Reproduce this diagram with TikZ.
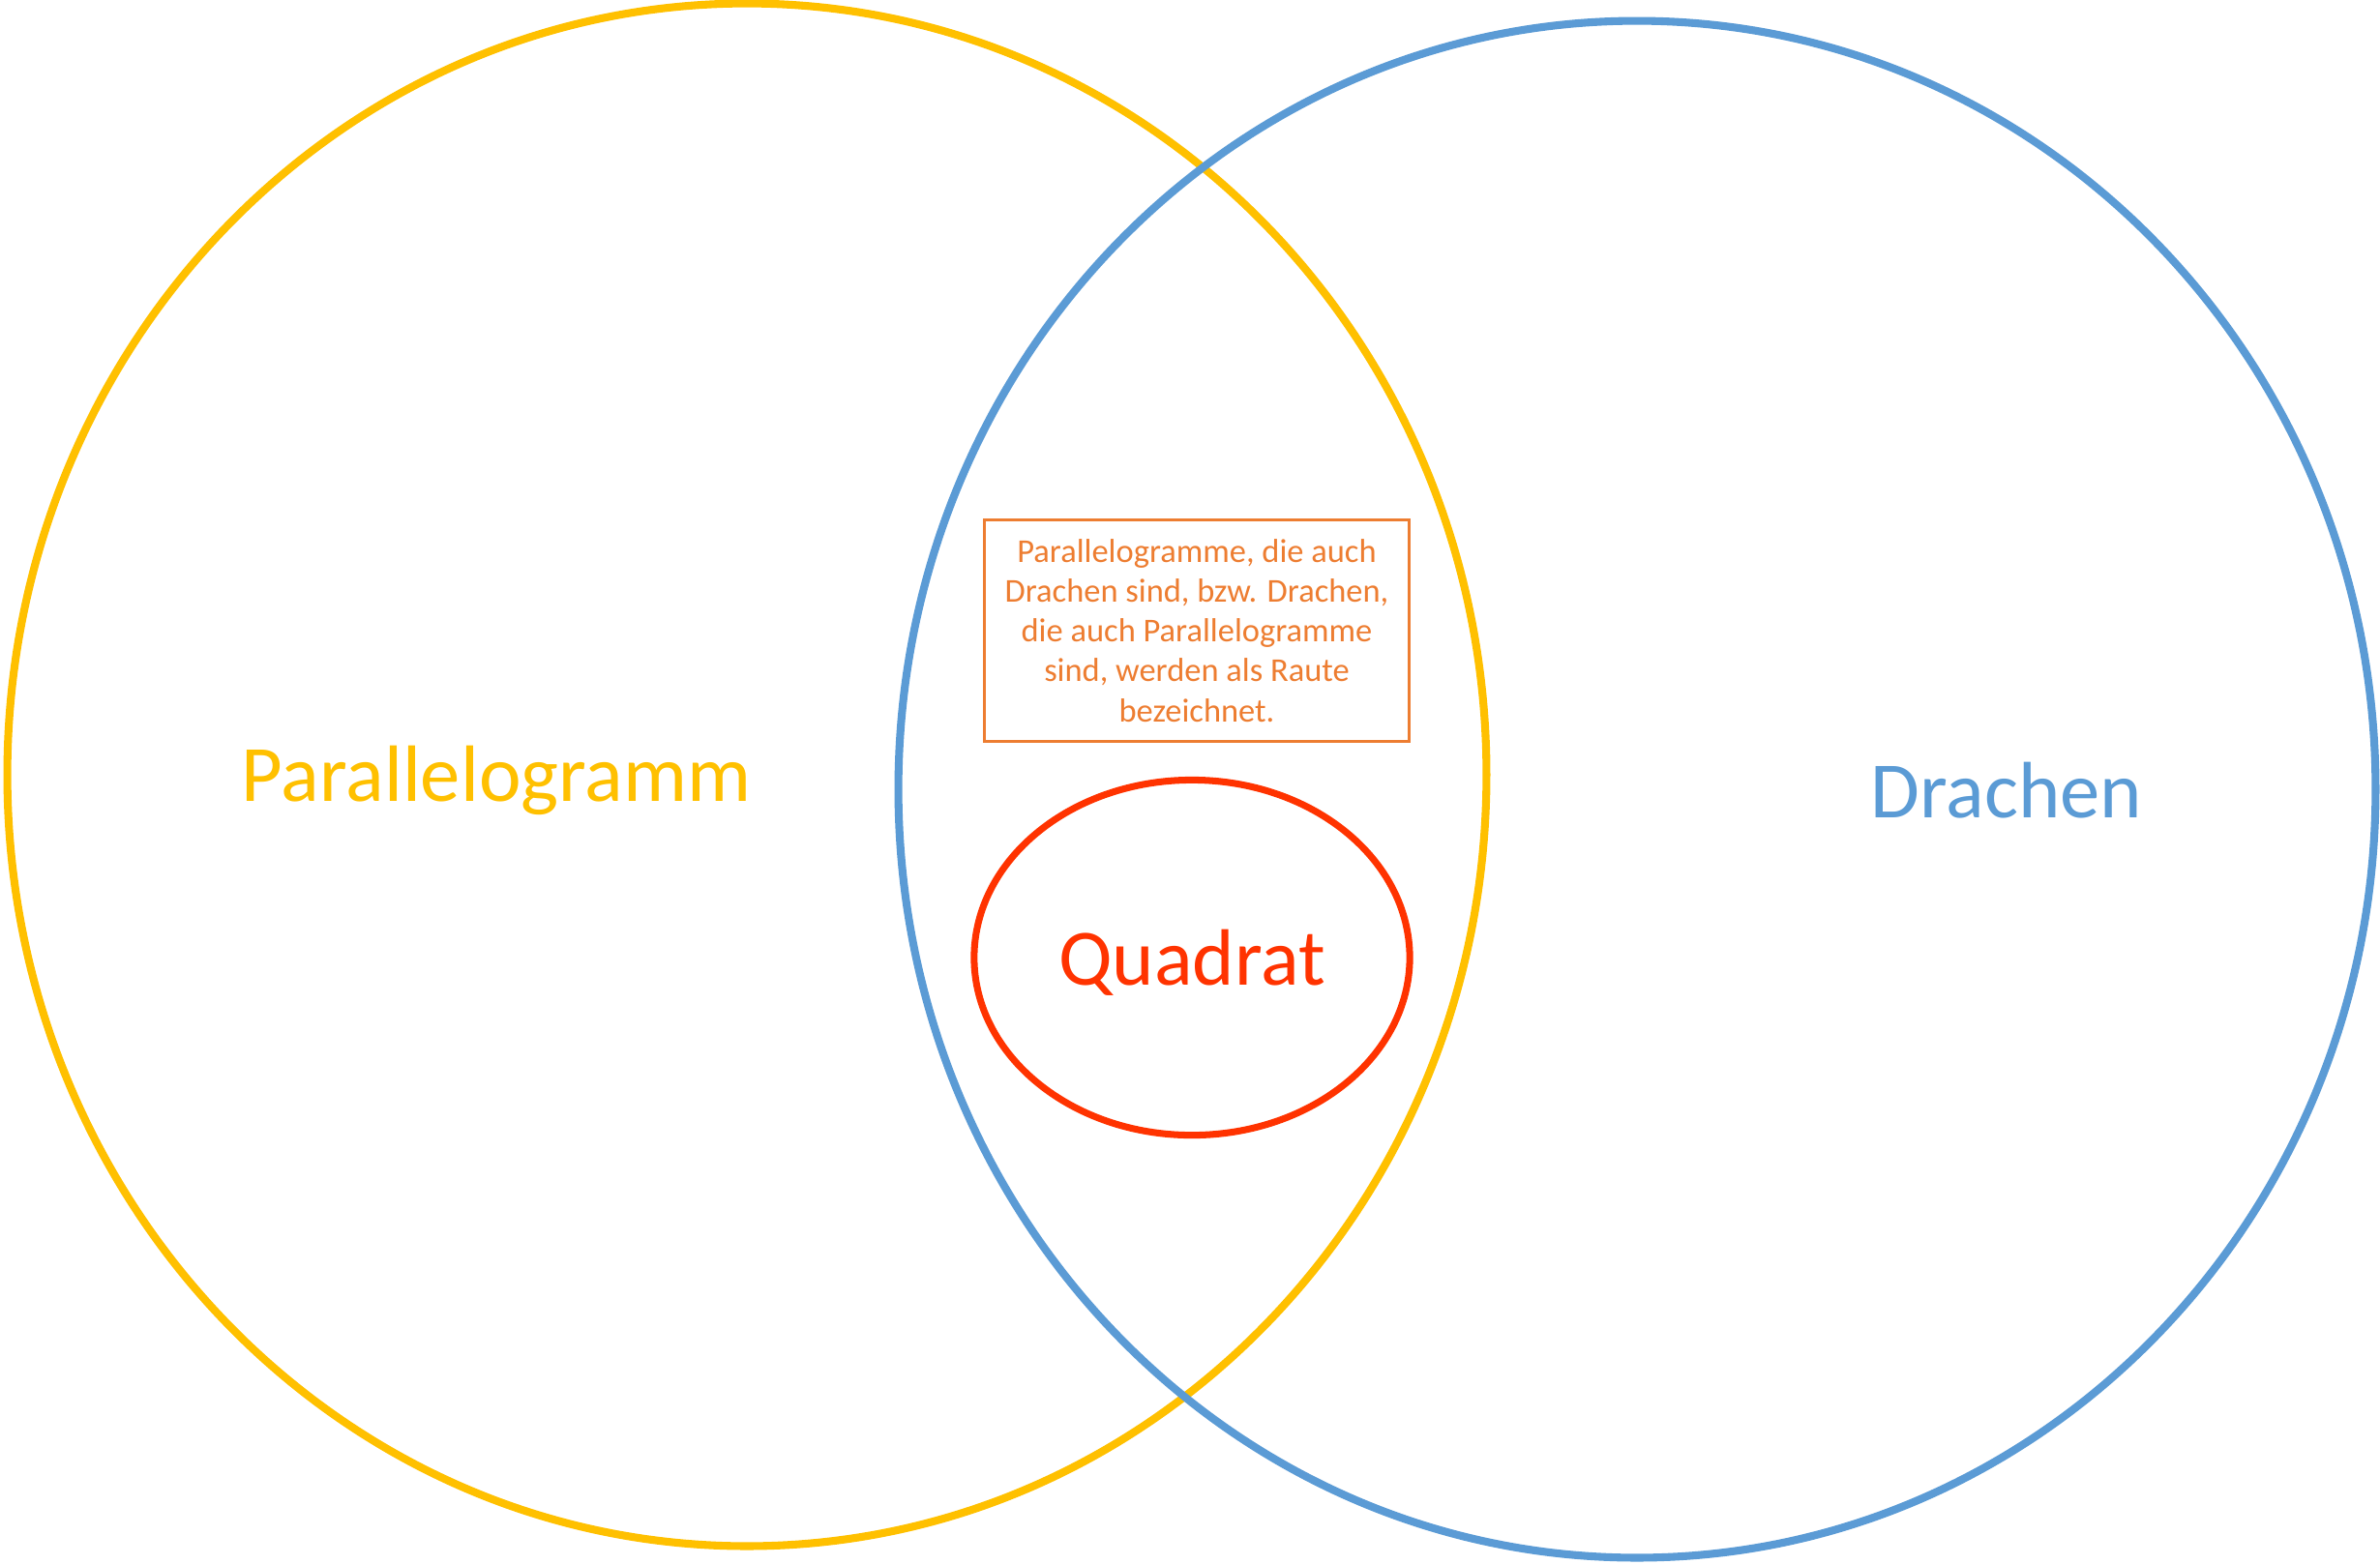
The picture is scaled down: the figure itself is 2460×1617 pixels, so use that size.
\documentclass[tikz,border=0pt]{standalone}
\usepackage{fontspec}
\setmainfont{Carlito}
\usetikzlibrary{shapes.geometric}
\definecolor{parayellow}{HTML}{FFC000}
\definecolor{drachenblue}{HTML}{5B9BD5}
\definecolor{rauteorange}{HTML}{ED7D31}
\definecolor{quadratred}{HTML}{FF3300}
\tikzset{
  venn/.style={ellipse, inner sep=0pt, line width=2.3pt},
  biglabel/.style={anchor=base, inner sep=0pt, font=\fontsize{23.5}{28}\selectfont}
}
\begin{document}
\begin{tikzpicture}[x=0.01cm, y=-0.01cm]
      \useasboundingbox (0,0) rectangle (2460,1617);
      \node[venn, draw=parayellow, minimum width=15.28cm, minimum height=15.94cm] (para) at (772,801) {};
      \node[venn, draw=drachenblue, minimum width=15.26cm, minimum height=15.88cm] (drachen) at (1692,816) {};
      \node[venn, draw=quadratred, line width=2pt, minimum width=4.5cm, minimum height=3.67cm] (quadrat) at (1232,990) {};
      \node[draw=rauteorange, line width=0.85pt, minimum width=4.39cm, minimum height=2.28cm,
            align=center, text=rauteorange, font=\fontsize{9.8}{11.7}\selectfont] (raute) at (1237,652)
        {Parallelogramme, die auch\\Drachen sind, bzw. Drachen,\\die auch Parallelogramme\\sind, werden als Raute\\bezeichnet.};
      \node[biglabel, text=parayellow] (paralabel) at (513,828) {Parallelogramm};
      \node[biglabel, text=drachenblue] (drachenlabel) at (2074,845) {Drachen};
      \node[biglabel, text=quadratred] (quadratlabel) at (1232,1018) {Quadrat};
    \end{tikzpicture}
\end{document}
